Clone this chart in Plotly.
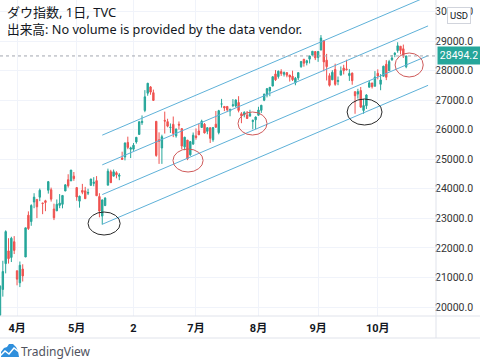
import plotly.graph_objects as go

# ---------------- data (Dow Jones Industrial Average, daily, 2020) ----------------
dates = [
    "2020-03-24", "2020-03-25", "2020-03-26", "2020-03-27", "2020-03-30", "2020-03-31",
    "2020-04-01", "2020-04-02", "2020-04-03", "2020-04-06", "2020-04-07", "2020-04-08", "2020-04-09",
    "2020-04-13", "2020-04-14", "2020-04-15", "2020-04-16", "2020-04-17", "2020-04-20", "2020-04-21",
    "2020-04-22", "2020-04-23", "2020-04-24", "2020-04-27", "2020-04-28", "2020-04-29", "2020-04-30",
    "2020-05-01", "2020-05-04", "2020-05-05", "2020-05-06", "2020-05-07", "2020-05-08", "2020-05-11",
    "2020-05-12", "2020-05-13", "2020-05-14", "2020-05-15", "2020-05-18", "2020-05-19", "2020-05-20",
    "2020-05-21", "2020-05-22", "2020-05-26", "2020-05-27", "2020-05-28", "2020-05-29",
    "2020-06-01", "2020-06-02", "2020-06-03", "2020-06-04", "2020-06-05", "2020-06-08", "2020-06-09",
    "2020-06-10", "2020-06-11", "2020-06-12", "2020-06-15", "2020-06-16", "2020-06-17", "2020-06-18",
    "2020-06-19", "2020-06-22", "2020-06-23", "2020-06-24", "2020-06-25", "2020-06-26", "2020-06-29",
    "2020-06-30",
    "2020-07-01", "2020-07-02", "2020-07-06", "2020-07-07", "2020-07-08", "2020-07-09", "2020-07-10",
    "2020-07-13", "2020-07-14", "2020-07-15", "2020-07-16", "2020-07-17", "2020-07-20", "2020-07-21",
    "2020-07-22", "2020-07-23", "2020-07-24", "2020-07-27", "2020-07-28", "2020-07-29", "2020-07-30",
    "2020-07-31",
    "2020-08-03", "2020-08-04", "2020-08-05", "2020-08-06", "2020-08-07", "2020-08-10", "2020-08-11",
    "2020-08-12", "2020-08-13", "2020-08-14", "2020-08-17", "2020-08-18", "2020-08-19", "2020-08-20",
    "2020-08-21", "2020-08-24", "2020-08-25", "2020-08-26", "2020-08-27", "2020-08-28", "2020-08-31",
    "2020-09-01", "2020-09-02", "2020-09-03", "2020-09-04", "2020-09-08", "2020-09-09", "2020-09-10",
    "2020-09-11", "2020-09-14", "2020-09-15", "2020-09-16", "2020-09-17", "2020-09-18", "2020-09-21",
    "2020-09-22", "2020-09-23", "2020-09-24", "2020-09-25", "2020-09-28", "2020-09-29", "2020-09-30",
    "2020-10-01", "2020-10-02", "2020-10-05", "2020-10-06", "2020-10-07", "2020-10-08", "2020-10-09",
    "2020-10-12", "2020-10-13", "2020-10-14", "2020-10-15",
]
opens = [
    19722, 20596, 21468, 21899, 21678, 22209,
    21227, 20820, 21285, 21693, 23107, 22891, 23554,
    23642, 23716, 23521, 23595, 23951, 23969, 23317,
    23254, 23439, 23475, 23925, 24306, 24267, 24428,
    24041, 23583, 23945, 23931, 23853, 24117, 24183,
    24276, 23738, 23077, 23435, 24122, 24578, 24428,
    24545, 24425, 25041, 25076, 25569, 25340,
    25342, 25584, 25840, 26236, 26650, 27233, 27447,
    27251, 26283, 25659, 25381, 26316, 26271, 26070,
    26182, 25789, 26183, 26036, 25419, 25648, 25149,
    25513,
    25789, 25957, 26073, 26186, 25944, 26067, 25660,
    26186, 25900, 26870, 26786, 26786, 26634, 26815,
    26800, 26918, 26538, 26500, 26499, 26457, 26276,
    26333,
    26489, 26654, 26996, 27175, 27314, 27475, 27886,
    27796, 27964, 27876, 27928, 27849, 27805, 27583,
    27752, 28132, 28382, 28262, 28387, 28522, 28644,
    28439, 28693, 29017, 28352, 27826, 27685, 28037,
    27628, 27845, 28085, 28057, 27830, 27914, 27286,
    27204, 27323, 26651, 26810, 27436, 27581, 27468,
    27908, 27536, 27807, 28214, 27992, 28364, 28542,
    28677, 28823, 28736, 28128,
]
highs = [
    20737, 21565, 22595, 22328, 22378, 22400,
    21227, 21540, 21447, 22680, 23237, 23477, 23851,
    23642, 24009, 23521, 23628, 24265, 24040, 23497,
    23640, 23821, 23782, 24150, 24492, 24637, 24568,
    24041, 23768, 24166, 24065, 24002, 24339, 24393,
    24430, 23851, 23632, 23716, 24682, 24642, 24652,
    24593, 24529, 25255, 25569, 25764, 25425,
    25548, 25743, 26269, 26482, 27338, 27580, 27475,
    27356, 26283, 25909, 25830, 26611, 26369, 26211,
    26445, 26031, 26278, 26036, 25758, 25648, 25619,
    25905,
    26041, 26204, 26338, 26225, 26079, 26067, 26078,
    26633, 26672, 27042, 26786, 26788, 26716, 27035,
    27024, 27133, 26594, 26624, 26632, 26673, 26345,
    26445,
    26775, 26836, 27218, 27411, 27443, 27803, 28016,
    28001, 28045, 27970, 27951, 27851, 27997, 27784,
    27930, 28315, 28394, 28364, 28502, 28654, 28644,
    28660, 29200, 29017, 28564, 27908, 28013, 28232,
    27798, 28139, 28195, 28367, 28048, 27933, 27286,
    27383, 27444, 27043, 27201, 27666, 27581, 27981,
    28042, 27880, 28162, 28354, 28363, 28526, 28620,
    28958, 28823, 28880, 28499,
]
lows = [
    19649, 20353, 21139, 21470, 21523, 21793,
    20735, 20675, 20863, 21693, 22610, 22748, 23344,
    23009, 23582, 23142, 23243, 23837, 23568, 22942,
    23254, 23344, 23339, 23925, 24041, 24267, 24271,
    23596, 23362, 23817, 23662, 23788, 24104, 24086,
    23761, 23036, 22790, 23412, 24122, 24203, 24428,
    24355, 24291, 24980, 24961, 25340, 25040,
    25285, 25527, 25840, 26161, 26592, 27147, 27182,
    26978, 25083, 24843, 24843, 25869, 26081, 25889,
    25748, 25730, 26002, 25338, 25305, 24970, 25115,
    25488,
    25662, 25827, 26073, 25873, 25845, 25550, 25591,
    26056, 25842, 26746, 26629, 26594, 26454, 26763,
    26755, 26585, 26219, 26418, 26372, 26457, 26013,
    26011,
    26468, 26567, 26965, 27092, 27132, 27473, 27649,
    27728, 27819, 27798, 27772, 27627, 27646, 27503,
    27677, 28093, 28132, 28175, 28241, 28500, 28354,
    28295, 28692, 27975, 27665, 27458, 27685, 27485,
    27505, 27845, 27870, 28000, 27650, 27520, 26538,
    27052, 26742, 26538, 26700, 27436, 27391, 27468,
    27703, 27335, 27807, 27676, 27992, 28330, 28452,
    28603, 28547, 28425, 28079,
]
closes = [
    20705, 21201, 22552, 21637, 22327, 21917,
    20944, 21413, 21053, 22680, 22654, 23434, 23719,
    23391, 23950, 23504, 23538, 24242, 23650, 23019,
    23476, 23515, 23775, 24134, 24102, 24634, 24346,
    23724, 23750, 23883, 23665, 23876, 24331, 24222,
    23765, 23248, 23625, 23685, 24597, 24207, 24576,
    24474, 24465, 24995, 25548, 25401, 25383,
    25475, 25743, 26270, 26282, 27111, 27572, 27272,
    26990, 25128, 25606, 25763, 26290, 26120, 26080,
    25871, 26025, 26156, 25446, 25746, 25016, 25596,
    25813,
    25735, 25827, 26287, 25890, 26067, 25706, 26075,
    26086, 26643, 26870, 26735, 26672, 26681, 26840,
    27006, 26652, 26470, 26585, 26379, 26540, 26314,
    26428,
    26664, 26828, 27202, 27387, 27433, 27791, 27687,
    27977, 27897, 27931, 27845, 27778, 27693, 27740,
    27930, 28308, 28248, 28332, 28492, 28654, 28430,
    28646, 29100, 28293, 28133, 27501, 27940, 27535,
    27666, 27993, 27996, 28032, 27902, 27657, 27148,
    27288, 26763, 26815, 27174, 27584, 27453, 27782,
    27817, 27683, 28149, 27773, 28303, 28426, 28587,
    28838, 28680, 28514, 28494.2,
]
last_price = 28494.2

# time-axis labels
tick_dates = ["2020-04-01", "2020-05-01", "2020-06-01", "2020-07-01", "2020-08-03", "2020-09-01", "2020-10-01"]
tick_text = ["4月", "5月", "2", "7月", "8月", "9月", "10月"]
price_ticks = [20000, 21000, 22000, 23000, 24000, 25000, 26000, 27000, 28000, 29000, 30000]

# drawings: parallel channel (bar index on the category axis, price)
channel_x = [36, 150.7]
channel_bases = [22800, 23805, 24810, 25815]
channel_rise = 4700

# drawings: ellipses (bar-index box, price box, colour)
ellipse_x0 = [31.0, 60.9, 83.8, 122.2, 139.1]
ellipse_x1 = [42.3, 71.5, 94.0, 134.5, 149.0]
ellipse_y0 = [22437, 24568, 25820, 26158, 27782]
ellipse_y1 = [23215, 25346, 26598, 27038, 28594]
ellipse_colors = ["#2a2a2a", "#cf5a5a", "#cf5a5a", "#2a2a2a", "#cf5a5a"]

# ---------------- figure ----------------
UP = "#26a69a"
DOWN = "#ef5350"
FONT = "Noto Sans, Noto Sans CJK JP, sans-serif"
AXFONT = "Roboto, Noto Sans CJK JP, sans-serif"

fig = go.Figure()
fig.add_trace(go.Candlestick(
    x=dates, open=opens, high=highs, low=lows, close=closes,
    increasing=dict(line=dict(color=UP, width=1), fillcolor=UP),
    decreasing=dict(line=dict(color=DOWN, width=1), fillcolor=DOWN),
    whiskerwidth=0, hoverinfo="skip", showlegend=False,
))

W, H = 480, 362
L, R, T, B = 0, 44, 0, 46
PW, PH = W - L - R, H - T - B


def px(x):
    return (x - L) / PW


def py(y):
    return 1 - (y - T) / PH


shapes = []
for b in channel_bases:
    shapes.append(dict(type="line", xref="x", yref="y",
                       x0=channel_x[0], y0=b, x1=channel_x[1], y1=b + channel_rise,
                       line=dict(color="#5eb1d8", width=1)))
for x0, x1, y0, y1, c in zip(ellipse_x0, ellipse_x1, ellipse_y0, ellipse_y1, ellipse_colors):
    shapes.append(dict(type="circle", xref="x", yref="y", x0=x0, x1=x1, y0=y0, y1=y1,
                       line=dict(color=c, width=1)))
shapes.append(dict(type="line", xref="paper", yref="y", x0=0, x1=1, y0=last_price, y1=last_price,
                   line=dict(color="#a3a6af", width=1, dash="dot")))
border = "#e0e3eb"
shapes.append(dict(type="line", xref="paper", yref="paper", x0=0, x1=px(W), y0=0, y1=0,
                   line=dict(color=border, width=1)))
shapes.append(dict(type="line", xref="paper", yref="paper", x0=0, x1=px(W), y0=py(338), y1=py(338),
                   line=dict(color=border, width=1)))
shapes.append(dict(type="line", xref="paper", yref="paper", x0=1, x1=1, y0=py(338), y1=1,
                   line=dict(color=border, width=1)))
# TradingView logo icon
logo_pts = [(1, 357), (1, 352), (4, 348), (7, 347), (9, 344), (13, 344), (16, 347), (18, 351), (19, 357)]
path = "M " + " L ".join(f"{px(a):.5f},{py(b):.5f}" for a, b in logo_pts) + " Z"
shapes.append(dict(type="path", xref="paper", yref="paper", path=path,
                   fillcolor="#2f8fdc", line=dict(color="#2f8fdc", width=0)))
zz = [(0, 356), (5, 351), (9, 354), (14, 348), (19, 352)]
path2 = "M " + " L ".join(f"{px(a):.5f},{py(b):.5f}" for a, b in zz)
shapes.append(dict(type="path", xref="paper", yref="paper", path=path2,
                   line=dict(color="white", width=1.5)))

annotations = [
    dict(text="ダウ指数, 1日, TVC", xref="paper", yref="paper", x=px(5), y=py(12.5),
         xanchor="left", yanchor="middle", showarrow=False,
         font=dict(family=FONT, size=13, color="#131722")),
    dict(text="出来高: No volume is provided by the data vendor.", xref="paper", yref="paper",
         x=px(5), y=py(28.5), xanchor="left", yanchor="middle", showarrow=False,
         font=dict(family=FONT, size=12.7, color="#131722")),
    dict(text=f"{last_price:.1f}", xref="paper", yref="y", x=1, xshift=1, y=last_price,
         xanchor="left", yanchor="middle", showarrow=False, bgcolor=UP, borderpad=2, width=38,
         font=dict(family=AXFONT, size=10.5, color="white")),
    dict(text="USD", xref="paper", yref="paper", x=px(459), y=py(15), xanchor="center",
         yanchor="middle", showarrow=False, bgcolor="white", bordercolor="#d1d4dc", borderwidth=1,
         borderpad=2, font=dict(family=AXFONT, size=9.5, color="#131722")),
    dict(text="TradingView", xref="paper", yref="paper", x=px(19), y=py(351), xanchor="left",
         yanchor="middle", showarrow=False, font=dict(family=FONT, size=12, color="#50535e")),
]

fig.update_layout(
    width=W, height=H, margin=dict(l=L, r=R, t=T, b=B, autoexpand=False),
    paper_bgcolor="white", plot_bgcolor="white", showlegend=False,
    font=dict(family=FONT),
    shapes=shapes, annotations=annotations,
    xaxis=dict(
        type="category", range=[0.0, 153.5], rangeslider=dict(visible=False),
        tickmode="array", tickvals=tick_dates, ticktext=tick_text,
        showgrid=True, gridcolor="#f0f3fa", gridwidth=1, zeroline=False, showline=False,
        ticks="", ticklen=0, ticklabelstandoff=4, automargin=False,
        tickfont=dict(family=AXFONT, size=11, color="#131722", weight="bold"),
        fixedrange=True,
    ),
    yaxis=dict(
        side="right", range=[19697, 30387], tickmode="array", tickvals=price_ticks,
        tickformat=".1f", showgrid=True, gridcolor="#f0f3fa", gridwidth=1, zeroline=False,
        showline=False, ticks="", ticklen=0, ticklabelstandoff=-2, automargin=False,
        tickfont=dict(family=AXFONT, size=10.5, color="#333333"), fixedrange=True,
    ),
)

fig.write_html(
    "out.html",
    config={"displayModeBar": False},
    post_script="document.body.style.margin='0';document.body.style.overflow='hidden';",
)
